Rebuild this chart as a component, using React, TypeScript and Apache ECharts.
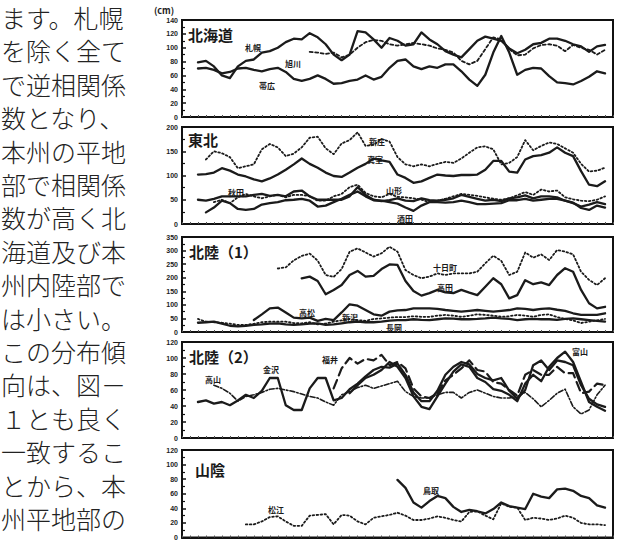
import React, { useEffect, useRef } from "react";
import * as echarts from "echarts";

// ---- shared time axis (index positions) ----
const N = 55;
const categories: string[] = Array.from({ length: N }, (_, i) => String(i + 1));

// ---- left column text ----
const bodyLines = [
  "ます。札幌",
  "を除く全て",
  "で逆相関係",
  "数となり、",
  "本州の平地",
  "部で相関係",
  "数が高く北",
  "海道及び本",
  "州内陸部で",
  "は小さい。",
  "この分布傾",
  "向は、図－",
  "１とも良く",
  "一致するこ",
  "とから、本",
  "州平地部の",
];

// ---- panel titles / y scales ----
const panelTitles = ["北海道", "東北", "北陸（1）", "北陸（2）", "山陰"];
const yMax = [140, 200, 350, 120, 120];
const yStep = [20, 50, 50, 20, 20];

// ---- 北海道 (cm) ----
const sapporoStart = 2;
const sapporo = [79,81,73,60,56,73,81,83,93,95,100,108,113,112,121,115,105,90,82,90,124,122,112,100,114,110,103,105,122,112,105,95,90,86,98,110,116,113,110,99,92,97,105,107,113,113,110,105,102,94,102,104];
const asahikawaStart = 16;
const asahikawa = [94,93,91,93,86,90,100,108,111,110,105,103,105,107,105,103,99,97,93,81,76,81,98,115,112,98,89,90,99,104,105,103,95,104,100,97,90,97];
const obihiroStart = 2;
const obihiro = [70,71,68,63,65,70,71,68,66,69,71,65,55,52,55,60,55,48,49,52,54,60,54,58,71,81,83,73,69,73,71,76,76,66,54,45,61,93,117,93,61,68,71,70,59,50,49,47,52,58,66,63];

// ---- 東北 ----
const shinjoStart = 3;
const shinjo = [133,150,146,138,115,119,123,154,165,158,140,145,158,178,180,156,144,166,173,189,161,163,175,170,138,123,119,123,119,124,128,126,135,147,158,160,154,123,126,138,173,152,161,168,165,156,147,124,108,110,116];
const mamuroStart = 2;
const mamuro = [102,103,106,115,110,102,98,92,88,94,102,112,123,135,124,116,106,99,97,106,116,124,135,131,128,102,95,85,88,95,102,100,99,101,101,102,112,130,130,108,106,133,140,142,147,158,147,140,109,81,78,88];
const akitaStart = 2;
const akita = [50,48,52,57,57,57,57,60,62,58,60,57,67,69,57,50,50,50,50,57,76,60,50,47,49,53,48,47,53,49,48,50,53,60,56,52,48,50,47,53,55,59,53,57,57,55,48,43,36,40,45,41];
const sakataStart = 3;
const sakata = [24,34,48,43,31,29,31,40,43,45,49,50,52,48,36,38,45,52,60,67,57,49,48,45,42,34,27,38,45,45,44,45,48,45,41,41,42,43,49,49,52,48,50,52,52,48,44,33,29,38,34];
const yamagataStart = 4;
const yamagata = [45,50,43,55,62,57,53,57,60,55,60,60,57,48,48,57,62,76,81,64,57,55,62,56,55,53,50,45,48,52,57,62,60,58,55,52,50,53,59,66,60,71,67,69,55,51,48,47,50,57];

// ---- 北陸（1） ----
const tokamachiStart = 12;
const tokamachi = [234,238,264,280,289,263,210,203,232,296,308,293,278,290,314,296,228,210,198,204,216,210,216,216,216,222,253,281,262,210,222,293,274,286,265,302,296,286,222,192,173,198];
const takadaStart = 15;
const takada = [198,204,188,139,155,173,210,225,204,207,232,249,247,188,151,134,143,155,146,143,155,145,136,167,198,176,124,136,191,176,183,173,210,235,222,155,106,87,93];
const takamatsuStart = 9;
const takamatsu = [44,65,87,90,72,53,50,53,41,48,44,72,102,97,81,65,60,75,80,81,87,87,87,85,81,78,75,78,81,78,75,78,81,87,85,81,85,87,82,78,69,63,63,63,69];
const niigataStart = 2;
const niigata = [48,38,36,34,31,26,26,30,36,38,38,38,33,32,36,28,31,38,43,48,44,41,48,50,53,55,55,58,56,56,60,63,60,56,60,65,63,60,56,58,63,60,56,63,65,55,48,43,33,38,43,48];
const nagaokaStart = 2;
const nagaoka = [34,36,38,31,23,21,23,26,28,31,32,28,26,28,31,32,26,28,32,36,38,36,36,38,42,44,44,47,45,44,47,50,49,47,47,48,50,53,50,48,44,47,48,47,47,45,48,50,47,44,41,38];

// ---- 北陸（2） ----
const kanazawaStart = 2;
const kanazawa = [45,47,43,45,41,47,54,50,59,75,75,41,35,35,62,75,75,47,50,61,68,77,85,89,88,93,79,57,46,46,59,79,89,95,92,80,75,72,75,59,49,60,91,97,85,97,95,91,66,49,42,39];
const toyamaStart = 21;
const toyama = [56,66,75,79,85,95,89,75,52,39,36,52,68,83,92,89,75,70,61,59,54,46,68,79,71,89,100,108,95,70,45,39,34];
const fukuiStart = 19;
const fukui = [62,87,100,93,99,97,104,91,95,87,62,52,50,56,72,79,87,97,85,83,70,68,60,53,79,85,79,79,89,81,81,56,58,68,66];
const takayamaStart = 4;
const takayama = [66,62,56,46,52,54,57,61,62,60,58,55,52,50,45,41,54,58,63,66,62,65,68,71,58,52,50,50,54,57,57,50,57,60,56,52,50,50,52,57,49,39,47,56,61,39,30,35,54,66];

// ---- 山陰 ----
const matsueStart = 8;
const matsue = [18,18,22,28,29,22,16,16,30,31,32,18,31,30,22,18,27,29,31,34,30,24,24,26,29,27,24,22,35,36,30,25,47,42,41,24,27,26,24,26,30,27,20,18,18,17];
const tottoriStart = 27;
const tottori = [79,68,48,41,50,57,54,42,35,38,36,33,39,48,43,41,39,60,56,54,66,67,64,57,54,44,41];

function place(start: number, values: number[]): (number | null)[] {
  const out: (number | null)[] = new Array(N).fill(null);
  values.forEach((v, k) => {
    out[start + k] = v;
  });
  return out;
}

const INK = "#1b1b1b";
const SOLID = { color: INK, width: 2.3, type: "solid" as const };
const DOTTED = { color: INK, width: 1.8, type: [1.6, 2.4] as number[] };
const DASHED = { color: INK, width: 1.8, type: [3, 2.5] as number[] };
const DASHDOT = { color: INK, width: 1.6, type: [5, 2, 1.5, 2] as number[] };
const LONGDASH = { color: INK, width: 2.2, type: [9, 5] as number[] };

type Spec = { name: string; panel: number; start: number; values: number[]; style: any };
const seriesSpecs: Spec[] = [
  { name: "札幌", panel: 0, start: sapporoStart, values: sapporo, style: SOLID },
  { name: "旭川", panel: 0, start: asahikawaStart, values: asahikawa, style: DASHED },
  { name: "帯広", panel: 0, start: obihiroStart, values: obihiro, style: SOLID },
  { name: "新庄", panel: 1, start: shinjoStart, values: shinjo, style: DOTTED },
  { name: "真室", panel: 1, start: mamuroStart, values: mamuro, style: SOLID },
  { name: "秋田", panel: 1, start: akitaStart, values: akita, style: SOLID },
  { name: "酒田", panel: 1, start: sakataStart, values: sakata, style: SOLID },
  { name: "山形", panel: 1, start: yamagataStart, values: yamagata, style: DOTTED },
  { name: "十日町", panel: 2, start: tokamachiStart, values: tokamachi, style: DOTTED },
  { name: "高田", panel: 2, start: takadaStart, values: takada, style: SOLID },
  { name: "高松", panel: 2, start: takamatsuStart, values: takamatsu, style: SOLID },
  { name: "新潟", panel: 2, start: niigataStart, values: niigata, style: DOTTED },
  { name: "長岡", panel: 2, start: nagaokaStart, values: nagaoka, style: SOLID },
  { name: "金沢", panel: 3, start: kanazawaStart, values: kanazawa, style: SOLID },
  { name: "富山", panel: 3, start: toyamaStart, values: toyama, style: SOLID },
  { name: "福井", panel: 3, start: fukuiStart, values: fukui, style: LONGDASH },
  { name: "高山", panel: 3, start: takayamaStart, values: takayama, style: DASHDOT },
  { name: "松江", panel: 4, start: matsueStart, values: matsue, style: DOTTED },
  { name: "鳥取", panel: 4, start: tottoriStart, values: tottori, style: SOLID },
];

// annotation placement (layout only)
const stationLabelPos: Record<string, [number, number]> = {
  札幌: [253, 47], 旭川: [293, 63], 帯広: [267, 85],
  新庄: [377, 141], 真室: [375, 159], 秋田: [236, 192], 山形: [394, 190], 酒田: [405, 218],
  十日町: [445, 267], 高田: [445, 287], 高松: [307, 312], 新潟: [350, 317], 長岡: [394, 327],
  高山: [213, 379], 金沢: [271, 369], 福井: [330, 359], 富山: [580, 351],
  松江: [276, 509], 鳥取: [431, 490],
};
const gridBoxes = [
  { top: 20, height: 97 },
  { top: 127, height: 97 },
  { top: 237, height: 95 },
  { top: 342, height: 96 },
  { top: 450, height: 91 },
];
const titlePos: [number, number][] = [[188, 34], [188, 139], [189, 251], [189, 356], [195, 469]];

const JP = '"Noto Sans CJK JP", "Noto Sans", sans-serif';

export default function App() {
  const ref = useRef<HTMLDivElement>(null);
  useEffect(() => {
    if (!ref.current) return;
    const chart = echarts.init(ref.current, undefined, { renderer: "svg" });

    const grid = gridBoxes.map((g) => ({
      left: 182,
      width: 431,
      top: g.top,
      height: g.height,
      show: true,
      borderColor: "#111",
      borderWidth: 2,
      backgroundColor: "transparent",
    }));

    const xAxis = gridBoxes.map((_, k) => ({
      type: "category",
      gridIndex: k,
      data: categories,
      boundaryGap: false,
      axisLabel: { show: false },
      axisLine: { show: true, lineStyle: { color: "#111", width: 2 } },
      axisTick: { show: true, inside: true, length: 2, interval: 0, lineStyle: { color: "#555", width: 1 } },
      splitLine: { show: false },
    }));

    const yAxis = gridBoxes.map((_, k) => ({
      type: "value",
      gridIndex: k,
      min: 0,
      max: yMax[k],
      interval: yStep[k],
      axisLine: { show: true, lineStyle: { color: "#111", width: 2 } },
      axisTick: { show: true, inside: true, length: 4, lineStyle: { color: "#111", width: 1.5 } },
      minorTick: { show: true, splitNumber: 2, length: 3, lineStyle: { color: "#111", width: 1.2 } },
      splitLine: { show: false },
      axisLabel: {
        fontSize: 7,
        fontWeight: "bold",
        fontFamily: '"Liberation Sans", Arial, sans-serif',
        color: "#222",
        margin: 4,
      },
    }));

    const series = seriesSpecs.map((s) => ({
      name: s.name,
      type: "line",
      xAxisIndex: s.panel,
      yAxisIndex: s.panel,
      data: place(s.start, s.values),
      showSymbol: false,
      symbol: "none",
      connectNulls: false,
      lineStyle: { ...s.style, cap: "round", join: "round" },
      z: 3,
    }));

    const graphics: any[] = [];
    bodyLines.forEach((t, r) => {
      graphics.push({
        type: "text",
        x: 1,
        y: 17 + r * 33.4,
        z: 10,
        style: {
          text: t,
          fontSize: 25,
          lineHeight: 25,
          fontWeight: 300,
          fontFamily: JP,
          fill: "#222",
          align: "left",
          verticalAlign: "middle",
        },
      });
    });
    graphics.push({
      type: "text",
      x: 164,
      y: 10,
      z: 10,
      style: { text: "(cm)", fontSize: 9, fontWeight: "bold", fontFamily: JP, fill: "#222", align: "center", verticalAlign: "middle" },
    });
    panelTitles.forEach((t, k) => {
      graphics.push({
        type: "text",
        x: titlePos[k][0],
        y: titlePos[k][1],
        z: 10,
        style: { text: t, fontSize: 15, fontWeight: "bold", fontFamily: JP, fill: "#1a1a1a", align: "left", verticalAlign: "middle" },
      });
    });
    seriesSpecs.forEach((s) => {
      const p = stationLabelPos[s.name];
      if (!p) return;
      graphics.push({
        type: "text",
        x: p[0],
        y: p[1],
        z: 10,
        style: { text: s.name, fontSize: 8, fontWeight: "bold", fontFamily: JP, fill: "#1a1a1a", align: "center", verticalAlign: "middle" },
      });
    });

    chart.setOption({
      animation: false,
      backgroundColor: "#ffffff",
      grid,
      xAxis,
      yAxis,
      series,
      graphic: graphics,
    });
    return () => chart.dispose();
  }, []);

  return (
    <div
      ref={ref}
      style={{ position: "fixed", left: 0, top: 0, width: 624, height: 541, background: "#fff" }}
    />
  );
}
